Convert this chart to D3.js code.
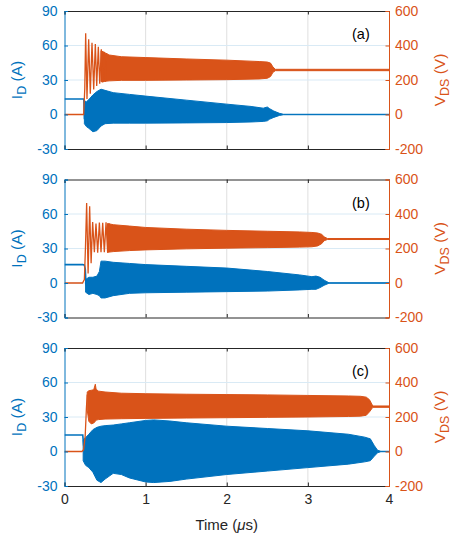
<!DOCTYPE html>
<html>
<head>
<meta charset="utf-8">
<script src="https://cdn.jsdelivr.net/npm/d3@7"></script>
<style>
  html, body { margin: 0; padding: 0; background: #fff; }
  svg { display: block; }
  svg text { font-family: "Liberation Sans", Arial, Helvetica, sans-serif; }
</style>
</head>
<body>
<svg id="chart" width="452" height="540"></svg>
<script>
// ---- axis ticks ----
const timeTicks = [0, 1, 2, 3, 4];
const currentTicks = [-30, 0, 30, 60, 90];
const voltageTicks = [-200, 0, 200, 400, 600];
const panelLabels = ["(a)", "(b)", "(c)"];

// ---- panel (a) ----
const aCurrentLeadT = [0, 0.238, 0.246];
const aCurrentLeadI = [13.5, 13.5, -4];
const aCurrentBandT  = [0.245, 0.27, 0.30, 0.35, 0.40, 0.45, 0.50, 0.60, 0.80, 1.00, 1.50, 2.00, 2.30, 2.45, 2.50, 2.53, 2.58, 2.65, 2.70, 4.00];
const aCurrentBandHi = [12, 11, 13, 17, 20, 22, 21, 19, 17.5, 16, 12.5, 9, 7, 5.5, 6.5, 5, 3, 1, 0.2, 0.2];
const aCurrentBandLo = [-8, -10.5, -12, -15, -14, -10, -8, -7.5, -7.5, -7.5, -7.3, -7, -6.5, -6, -5.5, -4, -2.5, -0.8, -0.2, -0.2];
const aVoltageLeadT = [0, 0.236, 0.250, 0.261, 0.277, 0.298, 0.318, 0.339, 0.360, 0.380, 0.397, 0.417, 0.434, 0.454, 0.471, 0.487, 0.503, 0.520];
const aVoltageLeadV = [0, 0, 150, 471, 90, 436, 120, 416, 145, 409, 165, 393, 178, 378, 185, 364, 190, 355];
const aVoltageBandT  = [0.45, 0.55, 0.70, 1.00, 1.50, 2.00, 2.40, 2.50, 2.54, 2.57, 2.60, 4.00];
const aVoltageBandHi = [370, 345, 335, 330, 322, 315, 307, 304, 298, 275, 262, 262];
const aVoltageBandLo = [190, 195, 198, 198, 200, 202, 206, 210, 220, 245, 254, 254];

// ---- panel (b) ----
const bCurrentLeadT = [0, 0.225, 0.245, 0.256, 0.266];
const bCurrentLeadI = [16, 16, 15.5, 12, -2];
const bCurrentBandT  = [0.26, 0.30, 0.35, 0.40, 0.43, 0.45, 0.50, 0.60, 0.80, 1.00, 1.50, 2.00, 2.50, 2.90, 3.05, 3.10, 3.15, 3.20, 3.26, 4.00];
const bCurrentBandHi = [3, 5, 5, 6, 10, 19, 19, 18, 17, 16, 14.5, 13, 10, 7, 5.5, 6, 5, 2.5, 0.2, 0.2];
const bCurrentBandLo = [-8, -10, -9, -10, -11, -13, -13, -11, -9, -8.5, -8, -7.5, -7, -6, -5.5, -5.5, -4, -2, -0.2, -0.2];
const bVoltageLeadT = [0, 0.222, 0.245, 0.258, 0.273, 0.291, 0.310, 0.328, 0.347, 0.368, 0.388, 0.409, 0.430, 0.450, 0.471, 0.491, 0.512, 0.532, 0.553];
const bVoltageLeadV = [0, 0, 20, 200, 464, 55, 445, 115, 353, 179, 344, 175, 350, 179, 349, 178, 352, 176, 345];
const bVoltageBandT  = [0.53, 0.60, 0.80, 1.00, 1.50, 2.00, 2.50, 2.90, 3.05, 3.12, 3.17, 3.20, 3.24, 4.00];
const bVoltageBandHi = [345, 338, 330, 322, 312, 305, 300, 296, 293, 290, 282, 268, 258, 258];
const bVoltageBandLo = [178, 182, 188, 192, 198, 202, 205, 208, 210, 215, 228, 245, 252, 252];

// ---- panel (c) ----
const cCurrentLeadT = [0, 0.225, 0.236];
const cCurrentLeadI = [14.3, 14.3, 5];
const cCurrentBandT  = [0.23, 0.26, 0.30, 0.35, 0.40, 0.45, 0.50, 0.60, 0.70, 0.80, 1.00, 1.10, 1.30, 1.50, 2.00, 2.50, 3.00, 3.50, 3.70, 3.77, 3.82, 3.86, 3.90, 4.00];
const cCurrentBandHi = [10, 12, 15, 19, 21, 22, 22.5, 23, 24, 25, 27, 27.5, 26.5, 25, 22, 20, 18, 15, 12.5, 11, 5, 1, 0.2, 0.2];
const cCurrentBandLo = [-8, -12, -14, -18, -25, -27, -24, -19, -20, -23, -26.5, -27, -26, -24, -20, -17, -14, -11, -9, -8, -4, -1, -0.2, -0.2];
const cVoltageLeadT = [0, 0.215, 0.235, 0.255, 0.270, 0.280];
const cVoltageLeadV = [0, 0, 10, 90, 250, 330];
const cVoltageBandT  = [0.28, 0.30, 0.33, 0.36, 0.38, 0.39, 0.42, 0.50, 0.70, 1.00, 1.50, 2.00, 2.50, 3.00, 3.50, 3.65, 3.72, 3.76, 3.80, 4.00];
const cVoltageBandHi = [345, 352, 355, 358, 390, 360, 350, 345, 338, 335, 332, 330, 328, 325, 322, 320, 315, 300, 264, 264];
const cVoltageBandLo = [240, 175, 160, 165, 175, 182, 185, 188, 190, 192, 194, 196, 198, 200, 203, 205, 210, 230, 256, 256];

const panels = [
  { label: panelLabels[0],
    iLead: [aCurrentLeadT, aCurrentLeadI], iBand: [aCurrentBandT, aCurrentBandHi, aCurrentBandLo],
    vLead: [aVoltageLeadT, aVoltageLeadV], vBand: [aVoltageBandT, aVoltageBandHi, aVoltageBandLo] },
  { label: panelLabels[1],
    iLead: [bCurrentLeadT, bCurrentLeadI], iBand: [bCurrentBandT, bCurrentBandHi, bCurrentBandLo],
    vLead: [bVoltageLeadT, bVoltageLeadV], vBand: [bVoltageBandT, bVoltageBandHi, bVoltageBandLo] },
  { label: panelLabels[2],
    iLead: [cCurrentLeadT, cCurrentLeadI], iBand: [cCurrentBandT, cCurrentBandHi, cCurrentBandLo],
    vLead: [cVoltageLeadT, cVoltageLeadV], vBand: [cVoltageBandT, cVoltageBandHi, cVoltageBandLo] }
];

// ---- styling ----
const BLUE = "#0072BD", ORANGE = "#D95319", DARK = "#262626";
const GRID_X = "#dfdfdf", GRID_Y = "#d9eaf5";
const left = 64.5, right = 389, panelTops = [11, 179.5, 348], panelH = 138;
const plain = d => String(d);   // hyphen-minus, as in the tick labels

const svg = d3.select("#chart");
const x = d3.scaleLinear().domain([0, 4]).range([left, right]);

function styleAxis(a, color) {
  a.attr("font-family", null).attr("font-size", null);
  a.select(".domain").attr("stroke", color);
  a.selectAll(".tick line").attr("stroke", color);
  a.selectAll("text").attr("fill", color).attr("font-size", 14);
}

panels.forEach((p, k) => {
  const top = panelTops[k], bottom = top + panelH;
  const yI = d3.scaleLinear().domain([-30, 90]).range([bottom, top]);
  const yV = d3.scaleLinear().domain([-200, 600]).range([bottom, top]);
  const g = svg.append("g");

  // grid
  g.selectAll(".gx").data(timeTicks.slice(1, -1)).join("line")
    .attr("x1", d => x(d)).attr("x2", d => x(d)).attr("y1", top).attr("y2", bottom)
    .attr("stroke", GRID_X).attr("stroke-width", 1);
  g.selectAll(".gy").data(currentTicks.slice(1, -1)).join("line")
    .attr("x1", left).attr("x2", right).attr("y1", d => yI(d)).attr("y2", d => yI(d))
    .attr("stroke", GRID_Y).attr("stroke-width", 1);

  // traces, clipped to the plot box
  const clipId = "clip" + k;
  svg.append("clipPath").attr("id", clipId).append("rect")
    .attr("x", left).attr("y", top).attr("width", right - left).attr("height", panelH);
  const traces = g.append("g").attr("clip-path", `url(#${clipId})`);

  const band = (t, hi, lo, ys) => d3.area()
    .x((d, i) => x(t[i])).y0((d, i) => ys(lo[i])).y1((d, i) => ys(hi[i]))(t);
  const lead = (t, v, ys) => d3.line().x((d, i) => x(t[i])).y((d, i) => ys(v[i]))(t);

  traces.append("path").attr("d", band(p.iBand[0], p.iBand[1], p.iBand[2], yI))
    .attr("fill", BLUE).attr("stroke", BLUE).attr("stroke-width", 1).attr("stroke-linejoin", "round");
  traces.append("path").attr("d", lead(p.iLead[0], p.iLead[1], yI))
    .attr("fill", "none").attr("stroke", BLUE).attr("stroke-width", 1.6);
  traces.append("path").attr("d", band(p.vBand[0], p.vBand[1], p.vBand[2], yV))
    .attr("fill", ORANGE).attr("stroke", ORANGE).attr("stroke-width", 1).attr("stroke-linejoin", "round");
  traces.append("path").attr("d", lead(p.vLead[0], p.vLead[1], yV))
    .attr("fill", "none").attr("stroke", ORANGE).attr("stroke-width", 1.3).attr("stroke-linejoin", "miter");

  // box: top and bottom edges with inward ticks
  const xTop = g.append("g").attr("transform", `translate(0,${top})`)
    .call(d3.axisTop(x).tickValues(timeTicks).tickSize(-3.5).tickFormat(""));
  const xBot = g.append("g").attr("transform", `translate(0,${bottom})`)
    .call(d3.axisBottom(x).tickValues(timeTicks).tickSize(-3.5).tickPadding(8)
      .tickFormat(k === 2 ? plain : ""));
  styleAxis(xTop, DARK);
  styleAxis(xBot, DARK);

  const yl = g.append("g").attr("transform", `translate(${left},0)`)
    .call(d3.axisLeft(yI).tickValues(currentTicks).tickSize(-3.5).tickPadding(7).tickFormat(plain));
  styleAxis(yl, BLUE);

  const yr = g.append("g").attr("transform", `translate(${right},0)`)
    .call(d3.axisRight(yV).tickValues(voltageTicks).tickSize(-3.5).tickPadding(6).tickFormat(plain));
  styleAxis(yr, ORANGE);

  // axis titles
  const mid = (top + bottom) / 2;
  const li = g.append("text").attr("transform", `translate(22,${mid}) rotate(-90)`)
    .attr("text-anchor", "middle").attr("fill", BLUE).attr("font-size", 15.5);
  li.append("tspan").text("I");
  li.append("tspan").attr("dy", 4).attr("font-size", 12.5).text("D");
  li.append("tspan").attr("dy", -4).text(" (A)");

  const rv = g.append("text").attr("transform", `translate(444.5,${mid}) rotate(-90)`)
    .attr("text-anchor", "middle").attr("fill", ORANGE).attr("font-size", 15.5);
  rv.append("tspan").text("V");
  rv.append("tspan").attr("dy", 4).attr("font-size", 12.5).text("DS");
  rv.append("tspan").attr("dy", -4).text(" (V)");

  // panel tag
  g.append("text").attr("x", 352).attr("y", top + 28).attr("fill", "#000")
    .attr("font-size", 14.5).text(p.label);
});

// x-axis title
const xt = svg.append("text").attr("x", (left + right) / 2).attr("y", 530)
  .attr("text-anchor", "middle").attr("fill", DARK).attr("font-size", 15);
xt.append("tspan").text("Time (");
xt.append("tspan").attr("font-style", "italic").text("\u03bc");
xt.append("tspan").text("s)");
</script>
</body>
</html>
